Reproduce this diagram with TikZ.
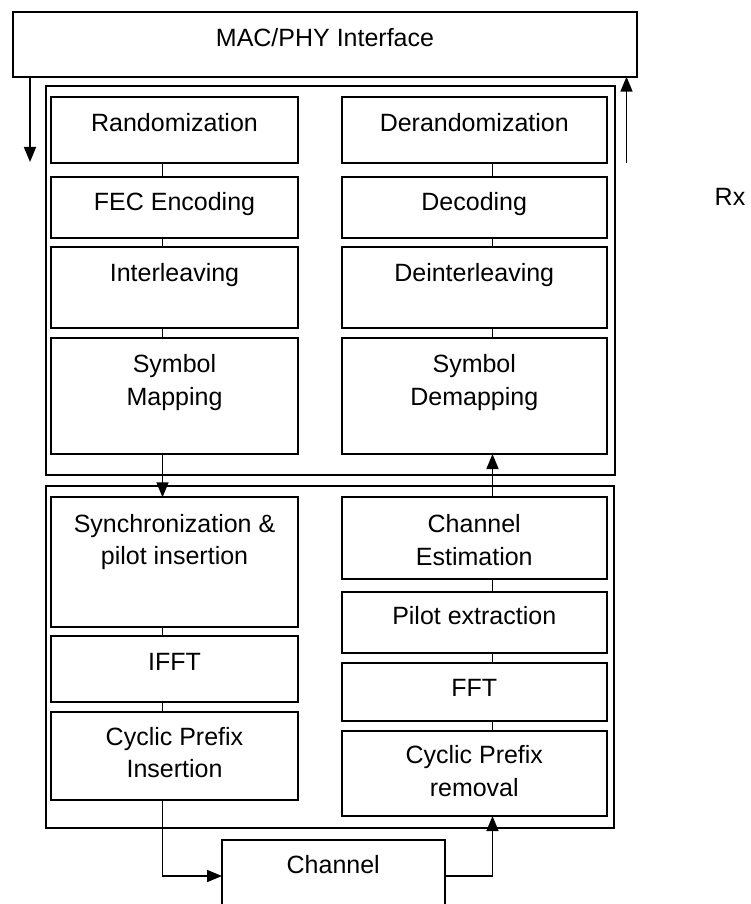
\documentclass[tikz,border=0pt]{standalone}
\usepackage{fontspec}
\setmainfont{Liberation Sans}
\usetikzlibrary{arrows.meta}
\begin{document}
\begin{tikzpicture}[x=1pt,y=-1pt,
 box/.style={draw, line width=2pt, rectangle, inner sep=0pt, outer sep=0pt, anchor=north west},
 lbl/.style={font=\fontsize{25}{32.5}\selectfont, align=center, inner sep=0pt, anchor=base},
 link/.style={line width=1.6pt},
 arr/.style={line width=1.6pt, -{Triangle[length=15pt,width=12pt]}}]
\useasboundingbox (0,0) rectangle (751,904);
\clip (0,0) rectangle (751,904);
% boxes
\node[box, minimum width=624pt, minimum height=64.4pt] (mac) at (13,12.3) {};
\node[box, minimum width=569.5pt, minimum height=389pt] (upper) at (45.5,86) {};
\node[box, minimum width=568.5pt, minimum height=342pt] (lower) at (45.5,486) {};
% left column upper
\node[box, minimum width=247pt, minimum height=65.7pt] (rand) at (51,97) {};
\node[box, minimum width=247pt, minimum height=61.6pt] (fec) at (51,176.7) {};
\node[box, minimum width=247pt, minimum height=81pt] (inter) at (51,247.3) {};
\node[box, minimum width=247pt, minimum height=116.3pt] (map) at (51,337.7) {};
% right column upper
\node[box, minimum width=265.5pt, minimum height=65.7pt] (derand) at (341.5,97) {};
\node[box, minimum width=265.5pt, minimum height=61.6pt] (dec) at (341.5,176.7) {};
\node[box, minimum width=265.5pt, minimum height=81pt] (deint) at (341.5,247.3) {};
\node[box, minimum width=265.5pt, minimum height=116.3pt] (demap) at (341.5,337.7) {};
% left column lower
\node[box, minimum width=247pt, minimum height=129.7pt] (sync) at (51,497.3) {};
\node[box, minimum width=247pt, minimum height=66pt] (ifft) at (51,636.3) {};
\node[box, minimum width=247pt, minimum height=88.6pt] (cpi) at (51,711.7) {};
% right column lower
\node[box, minimum width=265.5pt, minimum height=82pt] (chest) at (341.5,497.3) {};
\node[box, minimum width=265.5pt, minimum height=61.6pt] (pilot) at (341.5,591.7) {};
\node[box, minimum width=265.5pt, minimum height=57.4pt] (fft) at (341.5,663.3) {};
\node[box, minimum width=265.5pt, minimum height=85.3pt] (cpr) at (341.5,730.7) {};
% channel
\node[box, minimum width=222.5pt, minimum height=72pt] (chan) at (222,840) {};
% labels (base = baseline of last line)
\node[lbl] (t-mac) at (325,47) {MAC/PHY Interface};
\node[lbl] (t-rand) at (174.5,131.7) {Randomization};
\node[lbl] (t-fec) at (174.5,210) {FEC Encoding};
\node[lbl] (t-inter) at (174.5,281.7) {Interleaving};
\node[lbl] (t-map) at (174.5,405) {Symbol\\Mapping};
\node[lbl] (t-derand) at (474.25,131.7) {Derandomization};
\node[lbl] (t-dec) at (474.25,210) {Decoding};
\node[lbl] (t-deint) at (474.25,281.7) {Deinterleaving};
\node[lbl] (t-demap) at (474.25,405) {Symbol\\Demapping};
\node[lbl] (t-sync) at (174.5,564.5) {Synchronization \&\\pilot insertion};
\node[lbl] (t-ifft) at (174.5,670) {IFFT};
\node[lbl] (t-cpi) at (174.5,777.7) {Cyclic Prefix\\Insertion};
\node[lbl] (t-chest) at (474.25,565) {Channel\\Estimation};
\node[lbl] (t-pilot) at (474.25,624) {Pilot extraction};
\node[lbl] (t-fft) at (474.25,696) {FFT};
\node[lbl] (t-cpr) at (474.25,796) {Cyclic Prefix\\removal};
\node[lbl] (t-chan) at (333.25,873.3) {Channel};
\node[lbl] (t-rx) at (730,205) {Rx};
% guide coordinates
\coordinate (lx) at (162.5,0);
\coordinate (rx) at (492.5,0);
\coordinate (ltip) at (30,162);
\coordinate (rtail) at (626.5,163);
% interface arrows
\draw[arr] (mac.south -| ltip) -- (ltip);
\draw[arr] (rtail) -- (rtail |- mac.south);
% links upper
\draw[link] (rand.south -| lx) -- (fec.north -| lx);
\draw[link] (fec.south -| lx) -- (inter.north -| lx);
\draw[link] (inter.south -| lx) -- (map.north -| lx);
\draw[link] (derand.south -| rx) -- (dec.north -| rx);
\draw[link] (dec.south -| rx) -- (deint.north -| rx);
\draw[link] (deint.south -| rx) -- (demap.north -| rx);
% between sections
\draw[arr] (map.south -| lx) -- (sync.north -| lx);
\draw[arr] (chest.north -| rx) -- (demap.south -| rx);
% links lower
\draw[link] (sync.south -| lx) -- (ifft.north -| lx);
\draw[link] (ifft.south -| lx) -- (cpi.north -| lx);
\draw[link] (chest.south -| rx) -- (pilot.north -| rx);
\draw[link] (pilot.south -| rx) -- (fft.north -| rx);
\draw[link] (fft.south -| rx) -- (cpr.north -| rx);
% channel
\draw[arr] (cpi.south -| lx) |- (chan.west);
\draw[arr] (chan.east) -| (cpr.south -| rx);
\end{tikzpicture}
\end{document}
